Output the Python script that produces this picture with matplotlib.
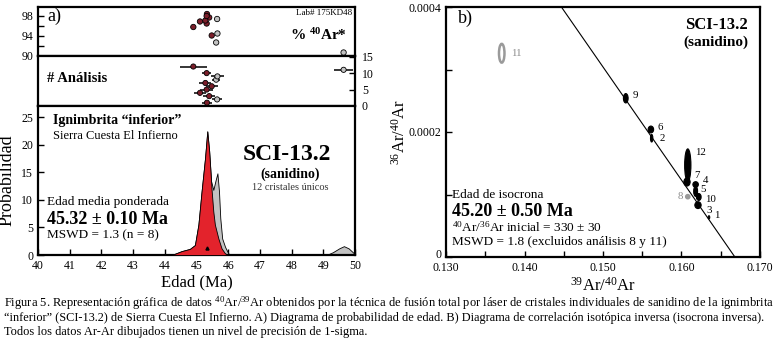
import matplotlib
matplotlib.use('Agg')
import matplotlib.pyplot as plt
import matplotlib.transforms as mtransforms
from matplotlib.patches import Ellipse

plt.rcParams['font.family'] = ['Liberation Serif', 'DejaVu Serif']
plt.rcParams['mathtext.fontset'] = 'custom'
plt.rcParams['mathtext.rm'] = 'Liberation Serif'
plt.rcParams['mathtext.it'] = 'Liberation Serif:italic'
plt.rcParams['mathtext.bf'] = 'Liberation Serif:bold'

W, H = 781, 346

# single crystal analyses, by analysis number
analysis_no = [1, 2, 3, 4, 5, 6, 7, 8, 9, 10, 11, 12]
age_ma = [45.33, 45.65, 45.40, 45.11, 45.32, 45.48, 45.28, 45.62, 45.66, 45.32, 49.64, 44.90]
age_err = [0.16, 0.17, 0.18, 0.19, 0.20, 0.19, 0.19, 0.12, 0.20, 0.15, 0.30, 0.42]
ar40_pct = [98.4, 97.4, 97.7, 96.9, 96.5, 94.1, 97.1, 92.7, 94.5, 98.0, 90.7, 95.8]
in_mean = [True, False, True, True, True, True, True, False, False, True, False, True]

# probability curves
red_age = [44.22, 44.53, 44.79, 44.95, 45.06, 45.16, 45.27, 45.34, 45.40, 45.48,
           45.53, 45.58, 45.69, 45.79, 45.90, 46.00]
red_prob = [0, 0.7, 1.1, 1.8, 5.5, 11.5, 17.6, 22.4, 18.8, 11.5,
            7.9, 5.5, 3.0, 1.2, 0.3, 0]
grey_age = [44.22, 44.53, 44.79, 44.95, 45.06, 45.16, 45.27, 45.34, 45.40, 45.46,
            45.53, 45.60, 45.66, 45.71, 45.75, 45.81, 45.90, 46.00, 46.10,
            49.10, 49.30, 49.50, 49.65, 49.80, 49.95, 50.00]
grey_prob = [0, 0.7, 1.1, 1.8, 5.5, 11.5, 17.6, 22.4, 18.8, 13.4,
             11.8, 13.5, 14.8, 11.5, 6.7, 3.0, 1.5, 0.3, 0,
             0, 0.5, 1.2, 1.6, 1.2, 0.4, 0.2]
mean_age = 45.32

# inverse isochron
iso_x = [0.1635, 0.1562, 0.1621, 0.1618, 0.1618, 0.1561, 0.1607, 0.1608, 0.1529, 0.1622, 0.1371, 0.1608]
iso_y = [0.0000635, 0.000190, 0.000083, 0.000116, 0.000105, 0.000204, 0.000120, 0.0000965,
         0.000254, 0.000096, 0.000326, 0.000147]
iso_w = [0.0002, 0.0003, 0.0008, 0.0007, 0.0005, 0.0007, 0.0008, 0.0004, 0.0006, 0.0006, 0.0007, 0.0008]
iso_h = [0.000005, 0.000012, 0.000011, 0.000009, 0.000016, 0.000011, 0.000013, 0.000005,
         0.000015, 0.000011, 0.000030, 0.000052]
in_iso = [True, True, True, True, True, True, True, False, True, True, False, True]
iso_line = [(0.1447, 0.0004), (0.1668, 0.0)]
lab_off = [(5, 2), (8, 0), (8, -5), (7, 4), (5, 2), (7, 2), (7, 6), (-5, 0),
           (7, 3), (6, -2), (9, 0), (7, 13)]

RED = '#e3232c'
DARKRED = '#7b1e2a'
GREY = '#c2c2c2'


def fx(x):
    return x / W


def fy(y):
    return 1 - y / H


def box(l, t, r, b):
    return [fx(l), fy(b), fx(r) - fx(l), fy(t) - fy(b)]


def style(ax):
    for s in ax.spines.values():
        s.set_linewidth(1.6)
    ax.tick_params(direction='in', length=4, width=1, labelsize=8.5)


fig = plt.figure(figsize=(W / 100, H / 100), dpi=100)

# ---- a) panel
ax1 = fig.add_axes(box(38, 7, 355, 56))
ax2 = fig.add_axes(box(38, 56, 355, 106))
ax3 = fig.add_axes(box(38, 106, 355, 255))
for ax in (ax1, ax2, ax3):
    style(ax)
    ax.set_xlim(40, 50)

cols = [DARKRED if k else GREY for k in in_mean]
ax1.scatter(age_ma, ar40_pct, s=15, c=cols, edgecolors='black', linewidths=0.6, zorder=3)
ax1.set_ylim(90, 99.8)
ax1.set_yticks([90, 92, 94, 96, 98])
ax1.set_yticklabels(['90', '', '94', '', '98'])
ax1.set_xticks([])

ax2.errorbar(age_ma, analysis_no, xerr=age_err, fmt='none', ecolor='black', elinewidth=1.1, zorder=2)
ax2.scatter(age_ma, analysis_no, s=14, c=cols, edgecolors='black', linewidths=0.6, zorder=3)
ax2.set_ylim(0, 15.2)
ax2.set_yticks([0, 5, 10, 15])
ax2.yaxis.tick_right()
ax2.tick_params(axis='y', direction='in', labelright=True, labelleft=False, pad=5)
ax2.set_xticks([])

ax3.fill_between(grey_age, grey_prob, color=GREY, edgecolor='black', linewidth=0.6, zorder=2)
ax3.fill_between(red_age, red_prob, color=RED, edgecolor='black', linewidth=0.6, zorder=3)
ax3.plot([mean_age], [1.3], marker='^', ms=2.2, color='black', zorder=4)
ax3.set_ylim(0, 27)
ax3.set_yticks([0, 5, 10, 15, 20, 25])
ax3.set_xticks(range(40, 51))
ax3.set_xlabel('Edad (Ma)', fontsize=12, labelpad=2)
ax3.set_ylabel('Probabilidad', fontsize=13, labelpad=4)

fig.text(fx(47), fy(16), 'a)', fontsize=13, va='center')
fig.text(fx(352), fy(13), 'Lab# 175KD48', fontsize=6.5, ha='right', va='center')
fig.text(fx(318), fy(35), r'% $^{\mathbf{40}}$Ar*', fontsize=11, fontweight='bold', ha='center', va='center')
fig.text(fx(47), fy(79), '# Análisis', fontsize=10.5, fontweight='bold', va='center')
fig.text(fx(53), fy(120), 'Ignimbrita “inferior”', fontsize=10, fontweight='bold', va='center')
fig.text(fx(53), fy(136), 'Sierra Cuesta El Infierno', fontsize=9, va='center')
fig.text(fx(287), fy(154), 'SCI-13.2', fontsize=17, fontweight='bold', ha='center', va='center')
fig.text(fx(290), fy(174), '(sanidino)', fontsize=10, fontweight='bold', ha='center', va='center')
fig.text(fx(290), fy(188), '12 cristales únicos', fontsize=7.5, ha='center', va='center', color='#333333')
fig.text(fx(47), fy(202), 'Edad media ponderada', fontsize=9.5, va='center')
fig.text(fx(47), fy(219), '45.32 ± 0.10 Ma', fontsize=13, fontweight='bold', va='center')
fig.text(fx(47), fy(235), 'MSWD = 1.3 (n = 8)', fontsize=9.5, va='center')

# ---- b) panel
ax4 = fig.add_axes(box(446, 7, 760, 257))
style(ax4)
ax4.set_xlim(0.130, 0.170)
ax4.set_ylim(0, 0.0004)
ax4.set_xticks([0.130, 0.135, 0.140, 0.145, 0.150, 0.155, 0.160, 0.165, 0.170])
ax4.set_xticklabels(['0.130', '', '0.140', '', '0.150', '', '0.160', '', '0.170'])
ax4.set_yticks([0, 0.0001, 0.0002, 0.0003, 0.0004])
ax4.set_yticklabels(['0', '', '0.0002', '', '0.0004'])
# lift the corner "0" a little so it clears the 0.130 label
zero_lab = ax4.get_yticklabels()[0]
zero_lab.set_transform(zero_lab.get_transform() +
                       mtransforms.ScaledTranslation(0, 4 / 100, fig.dpi_scale_trans))
ax4.axline(iso_line[0], iso_line[1], color='black', linewidth=0.8, zorder=2)

for i in range(len(iso_x)):
    if in_iso[i]:
        e = Ellipse((iso_x[i], iso_y[i]), iso_w[i], iso_h[i], facecolor='black',
                    edgecolor='black', linewidth=0.8, zorder=3)
        tc = 'black'
    else:
        e = Ellipse((iso_x[i], iso_y[i]), iso_w[i], iso_h[i],
                    facecolor='#9a9a9a' if analysis_no[i] == 8 else 'none',
                    edgecolor='#9a9a9a', linewidth=1.8, zorder=3)
        tc = '#8a8a8a'
    ax4.add_patch(e)
    dx, dy = lab_off[i]
    ax4.annotate(str(analysis_no[i]), (iso_x[i], iso_y[i]), xytext=(dx, dy),
                 textcoords='offset pixels', fontsize=7.8, color=tc,
                 ha='left' if dx > 0 else 'right', va='center', zorder=4)

ax4.set_xlabel(r'$^{39}$Ar/$^{40}$Ar', fontsize=12, labelpad=2)
ax4.set_ylabel(r'$^{36}$Ar/$^{40}$Ar', fontsize=12, labelpad=0)

fig.text(fx(458), fy(18), 'b)', fontsize=13, va='center')
fig.text(fx(748), fy(25), 'SCI-13.2', fontsize=12, fontweight='bold', ha='right', va='center')
fig.text(fx(748), fy(42), '(sanidino)', fontsize=11, fontweight='bold', ha='right', va='center')
fig.text(fx(452), fy(195), 'Edad de isocrona', fontsize=9.5, va='center')
fig.text(fx(452), fy(211), '45.20 ± 0.50 Ma', fontsize=13, fontweight='bold', va='center')
fig.text(fx(452), fy(227), r'$^{40}$Ar/$^{36}$Ar inicial = 330 ± 30', fontsize=9.5, va='center')
fig.text(fx(452), fy(242), 'MSWD = 1.8 (excluidos análisis 8 y 11)', fontsize=9.5, va='center')

# ---- caption
cap = [
    r'Figura 5. Representación gráfica de datos $^{40}$Ar/$^{39}$Ar obtenidos por la técnica de fusión '
    r'total por láser de cristales individuales de sanidino de la ignimbrita',
    '“inferior” (SCI-13.2) de Sierra Cuesta El Infierno. A) Diagrama de probabilidad de edad. '
    'B) Diagrama de correlación isotópica inversa (isocrona inversa).',
    'Todos los datos Ar-Ar dibujados tienen un nivel de precisión de 1-sigma.',
]
cap_size = [9.0, 8.85, 8.95]
for k, line in enumerate(cap):
    fig.text(fx(4), fy(303 + 14.5 * k), line, fontsize=cap_size[k], va='center')

fig.savefig('out.png', dpi=100)
